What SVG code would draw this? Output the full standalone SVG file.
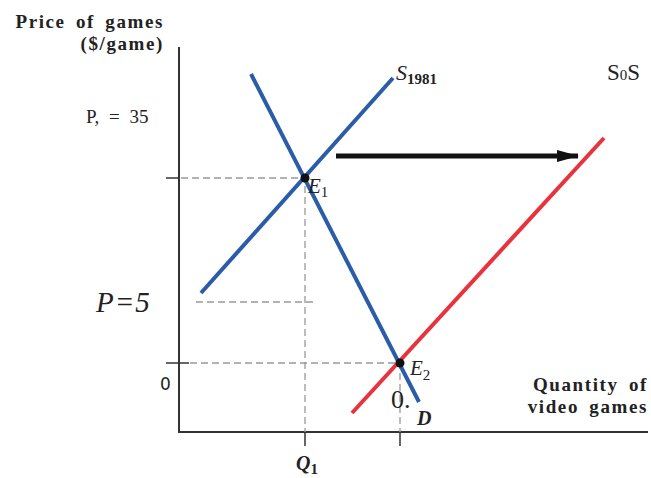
<svg xmlns="http://www.w3.org/2000/svg" width="651" height="478" viewBox="0 0 651 478">
<style>
.axis{stroke:#333;stroke-width:2;fill:none}
.tick{stroke:#333;stroke-width:1.5}
.dash{stroke:#999;stroke-width:1.3;stroke-dasharray:7,4;fill:none}
.blue{stroke:#2b5ca8;stroke-width:4;fill:none}
.red{stroke:#e8323c;stroke-width:4;fill:none}
.t{font-family:"Liberation Serif",serif;fill:#222}
.b{font-weight:bold}
.i{font-style:italic}
.ax{font-size:19px;letter-spacing:1.6px;word-spacing:4px}
</style>
<defs>
<marker id="ah" markerWidth="22" markerHeight="14" refX="21" refY="7" orient="auto" markerUnits="userSpaceOnUse">
<path d="M0,1 L22,7 L0,13 Z" fill="#111"/>
</marker>
</defs>
<rect width="651" height="478" fill="#fff"/>
<g id="axes">
<path class="axis" d="M179,47 V432 H648"/>
<line class="tick" x1="166" y1="178" x2="180" y2="178"/>
<line class="tick" x1="166" y1="363" x2="189" y2="363"/>
<line class="tick" x1="305" y1="432" x2="305" y2="446"/>
<line class="tick" x1="400" y1="432" x2="400" y2="446"/>
</g>
<g id="guides">
<path class="dash" d="M181,178 H305 V432"/>
<path class="dash" d="M190,363 H400 V432"/>
<path class="dash" d="M196,302 H316"/>
</g>
<g id="connectors">
<line id="supply1981" class="blue" x1="201" y1="293" x2="393" y2="78"/>
<line id="demand" class="blue" x1="251" y1="74" x2="419" y2="402"/>
<line id="supplyNew" class="red" x1="352" y1="413" x2="604" y2="138"/>
<line id="shift" x1="336" y1="156" x2="578" y2="156" stroke="#111" stroke-width="5" marker-end="url(#ah)"/>
</g>
<g id="E1"><circle cx="305" cy="178" r="4.5" fill="#111"/><text class="t i" x="308" y="193" font-size="21">E<tspan font-size="15" dy="4" font-style="normal">1</tspan></text></g>
<g id="E2"><circle cx="400" cy="363" r="4.5" fill="#111"/><text class="t i" x="410" y="375" font-size="21">E<tspan font-size="15" dy="5" font-style="normal">2</tspan></text></g>
<g id="labels">
<text class="t b ax" x="164" y="28" text-anchor="end">Price of games</text>
<text class="t b ax" x="164" y="50" text-anchor="end">($/game)</text>
<text class="t" x="86" y="123" font-size="19" word-spacing="5">P, = 35</text>
<text class="t i" x="396" y="80" font-size="22">S<tspan font-size="15" font-weight="bold" font-style="normal" dy="4">1981</tspan></text>
<text class="t" x="607" y="80" font-size="23">S<tspan font-size="15">0</tspan>S</text>
<text class="t i" x="96" y="312" font-size="29" letter-spacing="1">P=5</text>
<text x="160" y="390" font-size="17" font-family="'DejaVu Sans',sans-serif" fill="#222">0</text>
<text class="t" x="391" y="408" font-size="26">0.</text>
<text class="t i b" x="417" y="425" font-size="20">D</text>
<text class="t b ax" x="648" y="391" text-anchor="end">Quantity of</text>
<text class="t b ax" x="648" y="413" text-anchor="end">video games</text>
<text class="t i b" x="296" y="470" font-size="20">Q<tspan font-size="15" dy="4" font-style="normal">1</tspan></text>
</g>
</svg>
